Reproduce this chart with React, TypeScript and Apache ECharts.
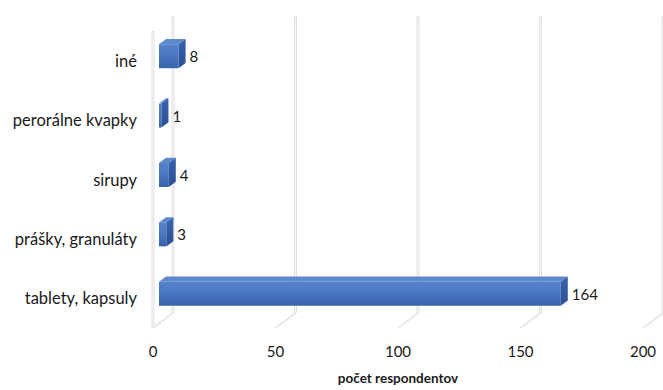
import React, { useEffect, useRef } from "react";
import * as echarts from "echarts";

// Categories listed bottom to top (category axis on y starts at the bottom)
const categories = ["tablety, kapsuly", "prášky, granuláty", "sirupy", "perorálne kvapky", "iné"];
const counts = [164, 3, 4, 1, 8];
const xTicks = [0, 50, 100, 150, 200];
const axisTitle = "počet respondentov";

// Depth of the 3D box (back wall offset from the front plane)
const DEPTH_X = 20;
const DEPTH_Y = -15;
// Bar slab position inside the depth (fractions of the depth vector)
const BAR_FRONT = 0.3;
const BAR_BACK = 0.65;
const BAR_THICK = 24;

const FONT = "Lato, 'Open Sans', sans-serif";

export default function App() {
  const ref = useRef<HTMLDivElement>(null);

  useEffect(() => {
    if (!ref.current) return;
    const chart = echarts.init(ref.current, undefined, { renderer: "svg" });

    const option: any = {
      animation: false,
      backgroundColor: "#ffffff",
      grid: { left: 153, right: 20, top: 31, bottom: 58, containLabel: false },
      xAxis: {
        type: "value",
        min: 0,
        max: 200,
        interval: 50,
        axisLine: { show: false },
        axisTick: { show: false },
        splitLine: { show: false },
        axisLabel: { color: "#1a1a1a", fontFamily: FONT, fontSize: 15, margin: 15 },
        name: axisTitle,
        nameLocation: "middle",
        nameGap: 43,
        nameTextStyle: { color: "#1a1a1a", fontFamily: FONT, fontSize: 13.5, fontWeight: "bold" },
      },
      yAxis: {
        type: "category",
        data: categories,
        axisLine: { show: false },
        axisTick: { show: false },
        splitLine: { show: false },
        axisLabel: { color: "#1a1a1a", fontFamily: FONT, fontSize: 16.5, margin: 16 },
      },
      series: [
        {
          // back-wall gridlines with their floor segments
          type: "custom",
          clip: false,
          z: 1,
          data: xTicks.map((v) => [v, 0]),
          renderItem: (params: any, api: any) => {
            const v = api.value(0);
            const X = api.coord([v, 0])[0];
            const cs = params.coordSys;
            const top = cs.y;
            const bottom = cs.y + cs.height;
            const bx = X + DEPTH_X;
            const children: any[] = [
              {
                type: "line",
                shape: { x1: bx, y1: top + DEPTH_Y, x2: bx, y2: bottom + DEPTH_Y },
                style: { stroke: "#e0e0e0", lineWidth: 3 },
              },
              {
                type: "line",
                shape: { x1: bx, y1: top + DEPTH_Y + 1, x2: bx, y2: bottom + DEPTH_Y },
                style: { stroke: "#f9f9f9", lineWidth: 1 },
              },
              {
                type: "line",
                shape: { x1: bx, y1: bottom + DEPTH_Y, x2: X, y2: bottom },
                style: { stroke: "#d2d2d2", lineWidth: 2, lineDash: [1, 1] },
              },
            ];
            if (v === 0) {
              children.push(
                {
                  type: "line",
                  shape: { x1: X, y1: top, x2: X, y2: bottom },
                  style: { stroke: "#e0e0e0", lineWidth: 3 },
                },
                {
                  type: "line",
                  shape: { x1: X, y1: top + 1, x2: X, y2: bottom },
                  style: { stroke: "#f9f9f9", lineWidth: 1 },
                }
              );
            }
            return { type: "group", children };
          },
        },
        {
          // 3D bars: front, top and side faces plus value label
          type: "custom",
          clip: false,
          z: 2,
          data: counts.map((c, i) => [c, i]),
          renderItem: (params: any, api: any) => {
            const val = api.value(0);
            const idx = api.value(1);
            const p0 = api.coord([0, idx]);
            const p1 = api.coord([val, idx]);
            const fx = DEPTH_X * BAR_FRONT;
            const fy = DEPTH_Y * BAR_FRONT;
            const dx = DEPTH_X * (BAR_BACK - BAR_FRONT);
            const dy = DEPTH_Y * (BAR_BACK - BAR_FRONT);
            const x0 = p0[0] + fx;
            const x1 = p1[0] + fx;
            const y0 = p0[1] + fy - BAR_THICK / 2;
            const y1 = y0 + BAR_THICK;
            return {
              type: "group",
              children: [
                {
                  type: "rect",
                  shape: { x: x0, y: y0, width: x1 - x0, height: BAR_THICK },
                  style: {
                    fill: new echarts.graphic.LinearGradient(0, 0, 0, 1, [
                      { offset: 0, color: "#5583cb" },
                      { offset: 0.45, color: "#4b78c1" },
                      { offset: 1, color: "#3762ad" },
                    ]),
                  },
                },
                {
                  type: "polygon",
                  shape: {
                    points: [
                      [x0, y0],
                      [x1, y0],
                      [x1 + dx, y0 + dy],
                      [x0 + dx, y0 + dy],
                    ],
                  },
                  style: { fill: "#5d8acf" },
                },
                {
                  type: "polygon",
                  shape: {
                    points: [
                      [x1, y0],
                      [x1 + dx, y0 + dy],
                      [x1 + dx, y1 + dy],
                      [x1, y1],
                    ],
                  },
                  style: {
                    fill: new echarts.graphic.LinearGradient(0, 0, 0, 1, [
                      { offset: 0, color: "#3a64ae" },
                      { offset: 1, color: "#2a4f93" },
                    ]),
                  },
                },
                {
                  type: "text",
                  style: {
                    x: x1 + dx + 4,
                    y: p0[1] + fy,
                    text: String(val),
                    fill: "#1a1a1a",
                    font: `15px ${FONT}`,
                    verticalAlign: "middle",
                    align: "left",
                  },
                },
              ],
            };
          },
        },
      ],
    };

    chart.setOption(option);
    return () => chart.dispose();
  }, []);

  return (
    <div
      ref={ref}
      style={{ position: "fixed", left: 0, top: 0, width: 663, height: 390 }}
    />
  );
}
